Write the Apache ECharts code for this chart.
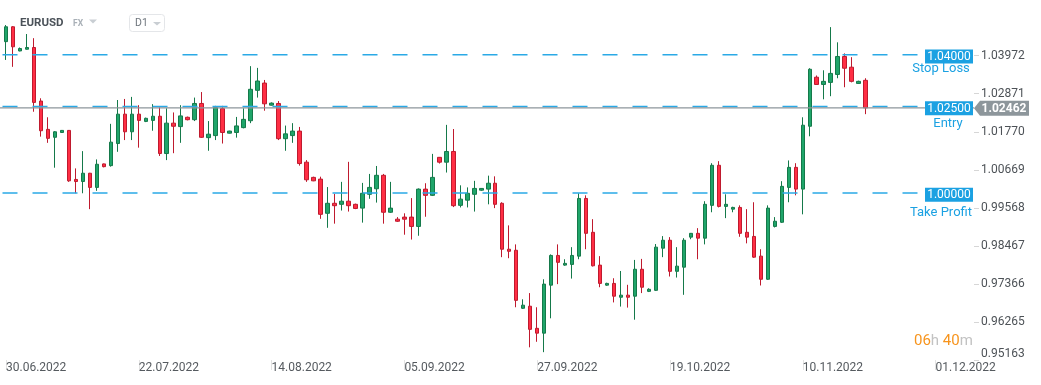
<!DOCTYPE html>
<html><head><meta charset="utf-8">
<script src="https://cdn.jsdelivr.net/npm/echarts@6/dist/echarts.min.js"></script>
<style>html,body{margin:0;padding:0;background:#fff}#c{width:1041px;height:385px}</style>
</head><body><div id="c"></div>
<script>
const symbolName = 'EURUSD';
const marketTag = 'FX';
const timeframe = 'D1';
const countdownHours = '06';
const countdownMinutes = '40';

const xTickLabels = ['30.06.2022','22.07.2022','14.08.2022','05.09.2022','27.09.2022','19.10.2022','10.11.2022','01.12.2022'];
const candlesPerLabel = 19;
const slotCount = 139;

const priceTickLabels = ['0.95163','0.96265','0.97366','0.98467','0.99568','1.00669','1.01770','1.02871','1.03972'];
const priceTickMin = 0.95163;
const priceTickStep = 0.011012;

const opens = [1.0438,1.0481,1.0411,1.0416,1.0421,1.0266,1.0184,1.0161,1.0175,1.0181,1.0039,1.0033,1.0057,1.0016,1.0084,1.0079,1.0143,1.0228,1.0177,1.0228,
1.0207,1.0210,1.0222,1.0114,1.0202,1.0192,1.0219,1.0212,1.0259,1.0160,1.0166,1.0244,1.0173,1.0175,1.0189,1.0209,1.0297,1.0318,1.0254,1.0259,
1.0157,1.0166,1.0179,1.0089,1.0045,1.0040,0.9941,0.9970,0.9967,0.9976,0.9967,0.9956,0.9996,1.0012,1.0051,0.9944,0.9924,0.9930,0.9930,0.9903,
1.0011,0.9993,1.0103,1.0089,1.0120,0.9964,0.9979,0.9996,1.0008,1.0011,1.0028,0.9970,0.9837,0.9834,0.9666,0.9672,0.9608,0.9594,0.9733,0.9819,
0.9791,0.9793,0.9817,0.9984,0.9886,0.9791,0.9733,0.9738,0.9698,0.9704,0.9701,0.9779,0.9715,0.9718,0.9840,0.9863,0.9773,0.9785,0.9872,0.9883,
0.9869,0.9964,1.0080,0.9961,0.9953,0.9958,0.9886,0.9874,0.9817,0.9750,0.9903,0.9915,1.0016,1.0074,1.0011,1.0193,1.0335,1.0314,1.0320,1.0343,
1.0395,1.0364,1.0317,1.0326];
const closes = [1.0481,1.0423,1.0418,1.0421,1.0262,1.0180,1.0158,1.0177,1.0181,1.0035,1.0033,1.0057,1.0016,1.0083,1.0076,1.0147,1.0228,1.0177,1.0228,1.0210,
1.0216,1.0222,1.0114,1.0202,1.0193,1.0223,1.0212,1.0259,1.0161,1.0170,1.0247,1.0175,1.0179,1.0194,1.0213,1.0300,1.0324,1.0258,1.0260,1.0157,
1.0171,1.0179,1.0085,1.0038,1.0035,0.9938,0.9970,0.9963,0.9976,0.9963,0.9955,0.9999,1.0016,1.0051,0.9944,0.9956,0.9918,0.9924,0.9903,1.0011,
0.9993,1.0045,1.0089,1.0120,0.9963,0.9982,0.9999,1.0013,1.0013,1.0028,0.9967,0.9837,0.9831,0.9689,0.9675,0.9605,0.9594,0.9736,0.9819,0.9799,
0.9796,0.9819,0.9984,0.9883,0.9789,0.9738,0.9738,0.9701,0.9704,0.9698,0.9779,0.9727,0.9721,0.9843,0.9863,0.9773,0.9788,0.9863,0.9883,0.9869,
0.9967,1.0080,0.9961,0.9967,0.9958,0.9883,0.9872,0.9814,0.9750,0.9956,0.9918,1.0019,1.0074,1.0011,1.0196,1.0358,1.0314,1.0323,1.0346,1.0395,
1.0361,1.0323,1.0323,1.02462];
const lows = [1.0385,1.0365,1.0410,1.0415,1.0235,1.0163,1.0145,1.0073,1.0174,1.0032,0.9999,0.9999,0.9953,1.0006,1.0074,1.0076,1.0119,1.0153,1.0153,1.0131,
1.0205,1.0180,1.0107,1.0095,1.0115,1.0145,1.0210,1.0208,1.0159,1.0122,1.0153,1.0143,1.0172,1.0160,1.0187,1.0202,1.0276,1.0238,1.0253,1.0153,
1.0122,1.0145,1.0079,1.0032,1.0034,0.9925,0.9899,0.9911,0.9949,0.9946,0.9953,0.9914,0.9983,0.9972,0.9911,0.9942,0.9916,0.9879,0.9865,0.9876,
0.9931,0.9991,1.0085,1.0059,0.9959,0.9958,0.9958,0.9946,1.0006,0.9967,0.9956,0.9814,0.9811,0.9669,0.9664,0.9553,0.9569,0.9539,0.9637,0.9736,
0.9789,0.9752,0.9808,0.9837,0.9787,0.9727,0.9731,0.9683,0.9671,0.9668,0.9633,0.9710,0.9713,0.9716,0.9814,0.9758,0.9755,0.9705,0.9866,0.9808,
0.9851,0.9944,0.9958,0.9927,0.9944,0.9873,0.9854,0.9812,0.9732,0.9748,0.9900,0.9913,0.9973,0.9993,0.9938,1.0164,1.0314,1.0271,1.0280,1.0332,
1.0306,1.0320,1.0316,1.0228];
const highs = [1.0486,1.0483,1.0421,1.0460,1.0448,1.0274,1.0219,1.0179,1.0182,1.0182,1.0071,1.0121,1.0058,1.0097,1.0085,1.0200,1.0269,1.0272,1.0278,1.0254,
1.0218,1.0257,1.0248,1.0245,1.0233,1.0254,1.0221,1.0276,1.0292,1.0208,1.0252,1.0252,1.0180,1.0220,1.0245,1.0367,1.0362,1.0327,1.0262,1.0266,
1.0195,1.0202,1.0191,1.0095,1.0047,1.0047,1.0017,0.9997,1.0032,1.0090,0.9969,1.0029,1.0055,1.0078,1.0055,1.0032,0.9930,0.9941,0.9985,1.0013,
1.0028,1.0113,1.0104,1.0197,1.0185,1.0022,1.0016,1.0035,1.0014,1.0050,1.0048,0.9973,0.9906,0.9851,0.9692,0.9710,0.9669,0.9750,0.9822,0.9851,
0.9808,0.9843,0.9999,0.9993,0.9924,0.9817,0.9740,0.9753,0.9774,0.9734,0.9806,0.9809,0.9724,0.9852,0.9875,0.9872,0.9843,0.9869,0.9884,0.9898,
0.9976,1.0086,1.0092,0.9996,0.9960,0.9964,0.9953,0.9973,0.9837,0.9964,0.9930,1.0034,1.0094,1.0086,1.0219,1.0361,1.0340,1.0355,1.0480,1.0436,
1.0404,1.0393,1.0325,1.0332];

const levelNames = ['Stop Loss', 'Entry', 'Take Profit'];
const levelValues = [1.04, 1.025, 1.0];
const lastPrice = 1.02462;

const categories = Array.from({length: slotCount}, (_, i) => String(i));
const ohlc = opens.map((o, i) => [o, closes[i], lows[i], highs[i]]);

const FONT = 'Roboto';
const BLUE = '#1ba1e2';
const GRAY_BADGE = '#8d969b';

const chart = echarts.init(document.getElementById('c'), null, {renderer: 'canvas'});

const gridLeft = 2.5, gridRight = 67, gridBottom = 25;
const option = {
  animation: false,
  backgroundColor: '#ffffff',
  textStyle: {fontFamily: FONT},
  grid: [
    {left: gridLeft, right: gridRight, top: 20, bottom: gridBottom},
    {left: gridLeft, right: gridRight, top: 55.7, bottom: gridBottom}
  ],
  xAxis: [
    {
      type: 'category', gridIndex: 0, data: categories, boundaryGap: true,
      axisLine: {show: false, onZero: false},
      axisTick: {show: true, alignWithLabel: true, interval: candlesPerLabel - 1, length: 10, lineStyle: {color: '#e3e3e3'}},
      axisLabel: {
        interval: candlesPerLabel - 1, align: 'left', margin: 2, padding: [0, 0, 0, 0],
        color: '#555a5f', fontSize: 12, fontFamily: FONT,
        formatter: (v, idx) => xTickLabels[Math.round(idx / candlesPerLabel)] || ''
      },
      splitLine: {show: false}
    },
    {type: 'value', gridIndex: 1, show: false, min: 0, max: 1}
  ],
  yAxis: [
    {type: 'value', gridIndex: 0, show: false, min: priceTickMin, max: 1.050061, splitLine: {show: false}, axisLine: {onZero: false}},
    {
      type: 'value', gridIndex: 1, position: 'right',
      min: priceTickMin, max: priceTickMin + 8 * priceTickStep, interval: priceTickStep,
      axisLine: {show: false, onZero: false},
      axisTick: {show: true, length: 5, lineStyle: {color: '#d6d6d6'}},
      splitLine: {show: false},
      axisLabel: {
        margin: 7, color: '#4d5257', fontSize: 12, fontFamily: FONT,
        formatter: (v) => {
          const k = Math.round((v - priceTickMin) / priceTickStep);
          const t = priceTickLabels[k] || '';
          return k === 0 ? '{lo|' + t + '}' : t;
        },
        rich: {lo: {color: '#4d5257', fontSize: 12, fontFamily: FONT, padding: [0, 0, 12, 0]}}
      }
    }
  ],
  series: [{
    type: 'candlestick', xAxisIndex: 0, yAxisIndex: 0,
    data: ohlc, barWidth: 4, clip: false,
    itemStyle: {color: '#1fa56a', color0: '#ff2e44', borderColor: '#15794a', borderColor0: '#bf1a2e', borderWidth: 1}
  }]
};
chart.setOption(option);

const yPix = (v) => chart.convertToPixel({yAxisIndex: 0}, v);
const graphics = [];
const nameCenters = [941, 948, 941];
const nameOffsets = [12.5, 15.5, 18];
const plotRight = 1041 - gridRight;

// level lines (dashed), positioned from the chart's own y scale
levelValues.forEach((v) => {
  const y = yPix(v);
  graphics.push({type: 'line', shape: {x1: gridLeft, y1: y, x2: 925, y2: y},
    style: {stroke: '#2aa9e6', lineWidth: 1.5, lineDash: [15, 15]}, z: 50, silent: true});
});
// last price line
const yLast = yPix(lastPrice);
graphics.push({type: 'line', shape: {x1: 0, y1: yLast, x2: plotRight, y2: yLast},
  style: {stroke: GRAY_BADGE, lineWidth: 1.2}, z: 51, silent: true});

levelValues.forEach((v, i) => {
  const y = yPix(v) + 1.8;
  graphics.push({type: 'rect', shape: {x: 925, y: y - 7, width: 48, height: 14}, style: {fill: BLUE}, z: 100});
  graphics.push({type: 'text', x: 949, y: y + 0.5, style: {text: v.toFixed(5), fill: '#ffffff', font: '12px ' + FONT, align: 'center', verticalAlign: 'middle'}, z: 101});
  graphics.push({type: 'text', x: nameCenters[i], y: y + nameOffsets[i], style: {text: levelNames[i], fill: BLUE, font: '13px ' + FONT, align: 'center', verticalAlign: 'middle'}, z: 101});
});
const yp = yLast + 0.4;
graphics.push({type: 'polygon', shape: {points: [[974, yp], [980, yp - 7.5], [1029, yp - 7.5], [1029, yp + 7.5], [980, yp + 7.5]]}, style: {fill: GRAY_BADGE}, z: 100});
graphics.push({type: 'text', x: 1004, y: yp + 0.5, style: {text: lastPrice.toFixed(5), fill: '#ffffff', font: 'bold 12px ' + FONT, align: 'center', verticalAlign: 'middle'}, z: 101});

// header
graphics.push({type: 'text', x: 20, y: 23.5, style: {text: symbolName, fill: '#4b5259', font: 'bold 11.5px ' + FONT, verticalAlign: 'middle'}, z: 120});
graphics.push({type: 'text', x: 73, y: 24, style: {text: marketTag, fill: '#a9b0b7', font: 'bold 8.5px ' + FONT, verticalAlign: 'middle'}, z: 120});
graphics.push({type: 'polygon', shape: {points: [[89, 19.5], [97, 19.5], [93, 23.5]]}, style: {fill: '#c9ced3'}, z: 120});
graphics.push({type: 'rect', shape: {x: 129.5, y: 14.5, width: 35, height: 17, r: 3}, style: {fill: '#ffffff', stroke: '#e4e6e9', lineWidth: 1}, z: 119});
graphics.push({type: 'text', x: 135, y: 23.5, style: {text: timeframe, fill: '#6f767d', font: '10.5px ' + FONT, verticalAlign: 'middle'}, z: 120});
graphics.push({type: 'polygon', shape: {points: [[153, 22], [161, 22], [157, 25.5]]}, style: {fill: '#c9ced3'}, z: 120});

// countdown
graphics.push({type: 'text', x: 914, y: 341.5, style: {
  text: '{o|' + countdownHours + '}{g|h }{o|' + countdownMinutes + '}{g|m}',
  verticalAlign: 'middle',
  rich: {o: {fill: '#f7941d', font: '15px ' + FONT}, g: {fill: '#c2c2c2', font: '15px ' + FONT}}
}, z: 120});

chart.setOption({graphic: graphics});
</script>
</body></html>
